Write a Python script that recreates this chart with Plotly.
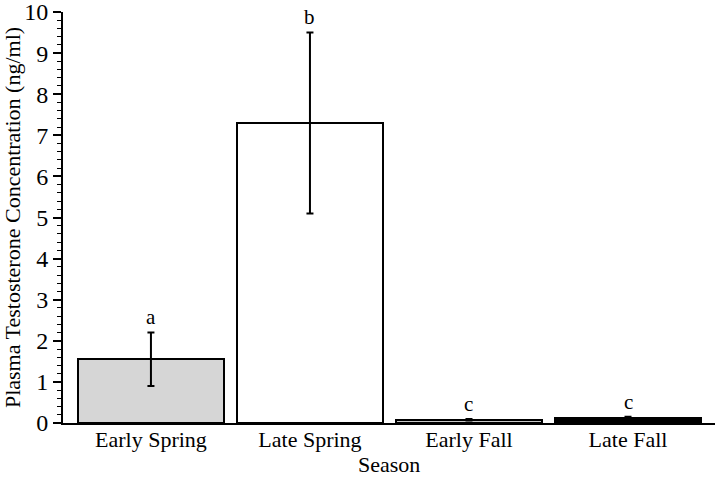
import plotly.graph_objects as go

seasons = ["Early Spring", "Late Spring", "Early Fall", "Late Fall"]
means = [1.55, 7.3, 0.08, 0.12]
err_up = [0.65, 2.2, 0.02, 0.03]
err_down = [0.65, 2.2, 0.02, 0.03]
letters = ["a", "b", "c", "c"]
colors = ["#d6d6d6", "#ffffff", "#c8c8c8", "#000000"]

xpos = list(range(len(seasons)))
serif = "Liberation Serif, Times New Roman, serif"

fig = go.Figure()
fig.add_trace(go.Bar(
    x=xpos, y=means, width=0.92,
    marker=dict(color=colors, line=dict(color="black", width=2)),
    error_y=dict(type="data", array=err_up, arrayminus=err_down, symmetric=False,
                 color="black", thickness=2, width=3.5),
    showlegend=False,
))

# significance letters above the error bars
for x, m, e, t in zip(xpos, means, err_up, letters):
    fig.add_annotation(x=x, y=m + e + 0.03, text=t, showarrow=False,
                       yanchor="bottom", font=dict(family=serif, size=21, color="black"))

# x axis title placed by hand
fig.add_annotation(x=0.5, y=-0.102, xref="paper", yref="paper", text="Season",
                   showarrow=False, yanchor="middle", font=dict(family=serif, size=22, color="black"))

fig.update_layout(
    width=720, height=479,
    margin=dict(l=63, r=5, t=12, b=56),
    plot_bgcolor="white", paper_bgcolor="white",
    font=dict(family=serif, color="black"),
    bargap=0,
)
fig.update_xaxes(
    range=[-0.553, 3.547], tickvals=xpos, ticktext=seasons, automargin=False,
    showline=True, linecolor="black", linewidth=2, ticks="",
    showgrid=False, zeroline=False, tickfont=dict(size=22), ticklabelstandoff=-4,
)
fig.update_yaxes(
    range=[0, 10], dtick=1, showline=True, linecolor="black", linewidth=2, automargin=False,
    ticks="outside", ticklen=8, tickwidth=1.5, tickcolor="black", ticklabeloverflow="allow",
    minor=dict(dtick=0.2, ticks="outside", ticklen=4, tickwidth=1, tickcolor="black", showgrid=False),
    showgrid=False, zeroline=False, tickfont=dict(size=24),
    title=dict(text="Plasma Testosterone Concentration (ng/ml)", font=dict(size=22), standoff=1),
)

# drop the default body margin so the figure sits at the window corner
fig.write_html("out.html", config={"displayModeBar": False},
               post_script="document.body.style.margin='0';")
